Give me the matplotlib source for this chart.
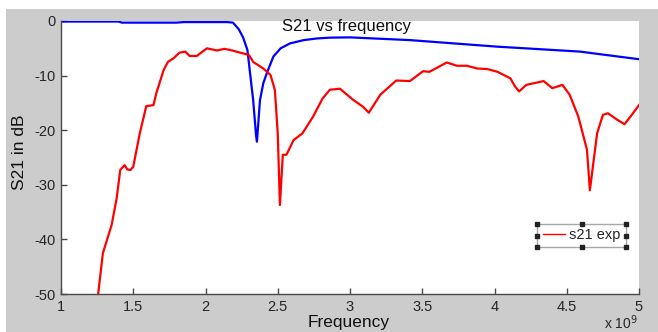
import matplotlib
matplotlib.use("Agg")
import matplotlib.pyplot as plt
from matplotlib.patches import Rectangle
from matplotlib.lines import Line2D

plt.rcParams['font.family'] = ['Liberation Sans', 'DejaVu Sans']
plt.rcParams['axes.unicode_minus'] = False

# ---- data (frequency in GHz, S21 in dB) ----
blue_f = [1.0, 1.4, 1.42, 1.8, 1.85, 2.15, 2.19, 2.23, 2.26, 2.29, 2.33, 2.35, 2.356,
          2.377, 2.40, 2.425, 2.47, 2.52, 2.585, 2.68, 2.77, 2.86, 3.0, 3.415, 4.02, 4.59, 5.0]
blue_db = [-0.1, -0.1, -0.3, -0.3, -0.2, -0.2, -0.3, -1.5, -3.0, -5.3, -14.5, -21.0, -22.1,
           -14.5, -11.4, -9.5, -6.5, -5.0, -4.1, -3.5, -3.2, -3.05, -3.0, -3.5, -4.7, -5.6, -7.0]

red_f = [1.257, 1.29, 1.35, 1.385, 1.41, 1.44, 1.46, 1.48, 1.50, 1.545, 1.59, 1.64, 1.66,
         1.71, 1.74, 1.78, 1.82, 1.86, 1.89, 1.94, 2.01, 2.08, 2.13, 2.17, 2.24, 2.30, 2.33,
         2.40, 2.45, 2.48, 2.50, 2.515, 2.535, 2.56, 2.61, 2.67, 2.745, 2.81, 2.86, 2.93,
         3.02, 3.09, 3.13, 3.21, 3.32, 3.415, 3.505, 3.55, 3.67, 3.74, 3.81, 3.88, 3.95,
         4.02, 4.11, 4.14, 4.17, 4.22, 4.34, 4.40, 4.47, 4.52, 4.58, 4.64, 4.66, 4.71,
         4.75, 4.785, 4.85, 4.90, 4.95, 5.0]
red_db = [-50, -42.5, -37.4, -32.5, -27.3, -26.4, -27.2, -27.3, -26.7, -20.6, -15.6, -15.4, -13.2,
          -9.0, -7.5, -6.8, -5.8, -5.6, -6.4, -6.4, -5.0, -5.4, -5.1, -5.3, -5.8, -6.2, -7.5,
          -8.7, -9.9, -12.6, -20.6, -33.7, -24.5, -24.5, -21.8, -20.6, -17.5, -14.2, -12.6, -12.4,
          -14.4, -15.7, -16.8, -13.5, -10.9, -11.0, -9.2, -9.3, -7.6, -8.2, -8.2, -8.7, -8.8,
          -9.3, -10.5, -11.9, -12.9, -11.7, -11.0, -12.3, -11.7, -13.5, -17.5, -23.6, -31.0, -20.6,
          -17.2, -16.9, -18.1, -18.9, -17.2, -15.4]

x_ticks = [1, 1.5, 2, 2.5, 3, 3.5, 4, 4.5, 5]
x_ticklabels = ['1', '1.5', '2', '2.5', '3', '3.5', '4', '4.5', '5']
y_ticks = [0, -10, -20, -30, -40, -50]

W, H = 658, 332
fig = plt.figure(figsize=(W / 100, H / 100), dpi=100, facecolor='white')
# gray MATLAB-like figure background
fig.patches.append(Rectangle((6 / W, 0), 1 - 6 / W, 1 - 9 / H, transform=fig.transFigure,
                             facecolor='#cccccc', edgecolor='none', zorder=-10))

ax = fig.add_axes([61 / W, 1 - 294 / H, (639 - 61) / W, (294 - 21) / H])
ax.set_facecolor('white')
ax.plot(blue_f, blue_db, color='#0000ff', lw=1.6, solid_joinstyle='round')
ax.plot(red_f, red_db, color='#ff0000', lw=1.6, solid_joinstyle='round')
ax.set_xlim(1, 5)
ax.set_ylim(-50, 0)
ax.set_xticks(x_ticks)
ax.set_xticklabels(x_ticklabels)
ax.set_yticks(y_ticks)
for s in ['top', 'right']:
    ax.spines[s].set_visible(False)
for s in ['left', 'bottom']:
    ax.spines[s].set_color('#4a4a4a')
    ax.spines[s].set_linewidth(1.0)
ax.tick_params(direction='in', length=4, width=1, color='#4a4a4a', labelsize=10.5,
               labelcolor='#262626', pad=4)

# legend frame (selected-style) and entry
lx0, lx1 = (537 - 61) / 578, (626 - 61) / 578
ly0, ly1 = (294 - 247) / 273, (294 - 224) / 273
ax.add_patch(Rectangle((lx0, ly0), lx1 - lx0, ly1 - ly0, transform=ax.transAxes,
                       facecolor='white', edgecolor='#a8a8a8', lw=1.0, zorder=5))
leg = ax.legend([Line2D([], [], color='#ff0000', lw=1)], ['s21 exp'],
                loc='center', bbox_to_anchor=((lx0 + lx1) / 2, (ly0 + ly1) / 2),
                frameon=False, fontsize=10.5, handlelength=1.5, handletextpad=0.3,
                borderpad=0, borderaxespad=0)
leg.set_zorder(6)
for tx in leg.get_texts():
    tx.set_color('#262626')
hx = [lx0, (lx0 + lx1) / 2, lx1]
hy = [ly0, (ly0 + ly1) / 2, ly1]
pts = [(a, b) for a in hx for b in hy if not (a == hx[1] and b == hy[1])]
ax.plot([p[0] for p in pts], [p[1] for p in pts], 's', color='#222222', ms=3,
        transform=ax.transAxes, clip_on=False, zorder=7)

# texts
fig.text(347 / W, 1 - 31 / H, 'S21 vs frequency', ha='center', va='baseline',
         fontsize=12, color='#111111')
fig.text(20 / W, 1 - 152 / H, 'S21 in dB', ha='center', va='center', rotation=90,
         fontsize=12.5, color='#111111')
fig.text(349 / W, 1 - 327 / H, 'Frequency', ha='center', va='baseline',
         fontsize=12.5, color='#111111')
fig.text(604 / W, 1 - 329 / H, r'x 10$^{9}$', ha='left', va='baseline',
         fontsize=10, color='#262626')

fig.savefig('out.png', dpi=100, facecolor=fig.get_facecolor())
